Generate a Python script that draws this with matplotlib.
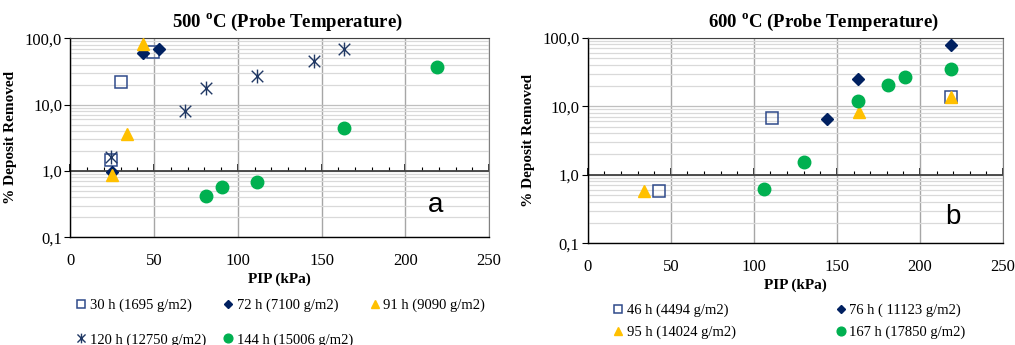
import numpy as np
import matplotlib.pyplot as plt
from matplotlib.ticker import FixedLocator, FixedFormatter, MultipleLocator, LogLocator, NullFormatter
from matplotlib.lines import Line2D
from matplotlib.path import Path

plt.rcParams['font.family'] = ['Liberation Serif', 'DejaVu Serif']
plt.rcParams['mathtext.fontset'] = 'custom'
plt.rcParams['mathtext.bf'] = 'Liberation Serif:bold'
plt.rcParams['mathtext.rm'] = 'Liberation Serif'

# 500 C panel (a)
a_30h_x = [30.0, 49.1, 24.3]
a_30h_y = [22, 63, 1.47]
a_72h_x = [43.2, 53.1, 24.7]
a_72h_y = [61, 68, 0.98]
a_91h_x = [43.6, 33.6, 24.7]
a_91h_y = [81, 3.6, 0.87]
a_120h_x = [24.3, 68.4, 81.3, 111.2, 145.4, 163.3]
a_120h_y = [1.64, 8.1, 18, 27, 46, 68]
a_144h_x = [81.3, 90.3, 111.2, 163.3, 219.2]
a_144h_y = [0.42, 0.57, 0.67, 4.5, 37]

# 600 C panel (b)
b_46h_x = [111.1, 42.9, 218.9]
b_46h_y = [6.7, 0.57, 13.8]
b_76h_x = [144.3, 162.8, 218.9]
b_76h_y = [6.5, 25, 77]
b_95h_x = [34.1, 163.2, 218.9]
b_95h_y = [0.57, 8.3, 13.8]
b_167h_x = [106.1, 130.1, 162.8, 180.8, 190.9, 218.9]
b_167h_y = [0.62, 1.52, 12, 20.4, 26.4, 35.3]

labels_a = ['30 h (1695 g/m2)', '72 h (7100 g/m2)', '91 h (9090 g/m2)',
            '120 h (12750 g/m2)', '144 h (15006 g/m2)']
labels_b = ['46 h (4494 g/m2)', '76 h ( 11123 g/m2)', '95 h (14024 g/m2)',
            '167 h (17850 g/m2)']

y_ticks = [0.1, 1, 10, 100]
y_tick_labels = ['0,1', '1,0', '10,0', '100,0']

NAVY = '#203864'
DNAVY = '#002060'
GOLD = '#FFC000'
GREEN = '#00B050'

# excel-like star: an X with a vertical stroke
star_path = Path([(-1, -1), (1, 1), (-1, 1), (1, -1), (0, -1.2), (0, 1.2)],
                 [Path.MOVETO, Path.LINETO, Path.MOVETO, Path.LINETO, Path.MOVETO, Path.LINETO])

sq = dict(marker='s', ms=9, mfc='none', mec='#2F4A8A', mew=1.1, ls='none')
dia = dict(marker='D', ms=6.5, color=DNAVY, ls='none')
tri = dict(marker='^', ms=9, color=GOLD, ls='none')
star = dict(marker=star_path, ms=10, mec=NAVY, mew=1.0, ls='none')
circ = dict(marker='o', ms=9, color=GREEN, ls='none')

fig = plt.figure(figsize=(10.15, 3.45), dpi=100)
ax1 = fig.add_axes([0.0693, 0.3122, 0.4125, 0.5768])
ax2 = fig.add_axes([0.579, 0.2948, 0.4092, 0.596])


def style(ax):
    ax.set_yscale('log')
    ax.set_xlim(0, 250)
    ax.set_ylim(0.1, 100)
    ax.yaxis.set_major_locator(FixedLocator(y_ticks))
    ax.yaxis.set_major_formatter(FixedFormatter(y_tick_labels))
    ax.yaxis.set_minor_locator(LogLocator(base=10, subs=np.arange(2, 10)))
    ax.yaxis.set_minor_formatter(NullFormatter())
    ax.xaxis.set_major_locator(MultipleLocator(50))
    ax.grid(True, which='minor', axis='y', color='#D9D9D9', lw=0.9)
    ax.grid(True, which='major', axis='y', color='#BFBFBF', lw=0.9)
    ax.grid(True, which='major', axis='x', color='#A6A6A6', lw=1.0)
    ax.tick_params(axis='x', which='both', length=0, labelsize=12, pad=11)
    ax.tick_params(axis='y', which='major', length=4, direction='out', labelsize=12, pad=2)
    ax.tick_params(axis='y', which='minor', length=0)
    for s in ['left', 'bottom']:
        ax.spines[s].set_color('black')
        ax.spines[s].set_linewidth(1.0)
    ax.spines['top'].set_color('#404040')
    ax.spines['right'].set_color('#808080')
    ax.axhline(1, color='#404040', lw=1.3, zorder=1.5)
    sec = ax.secondary_xaxis(1 / 3)
    sec.xaxis.set_major_locator(MultipleLocator(50))
    sec.xaxis.set_minor_locator(MultipleLocator(10))
    sec.tick_params(which='major', length=5, direction='in', width=1.2, labelbottom=False, labeltop=False)
    sec.tick_params(which='minor', length=3, direction='in', width=0.8)
    sec.spines['top'].set_visible(False)
    sec.spines['bottom'].set_visible(False)
    sec.set_xticklabels([])
    ax.set_xlabel('PIP (kPa)', fontweight='bold', fontsize=11, labelpad=3)
    ax.set_ylabel('% Deposit Removed', fontweight='bold', fontsize=11)
    ax.set_axisbelow(True)


style(ax1)
style(ax2)

h1 = ax1.plot(a_30h_x, a_30h_y, **sq, label=labels_a[0], zorder=3)[0]
h2 = ax1.plot(a_72h_x, a_72h_y, **dia, label=labels_a[1], zorder=3)[0]
h3 = ax1.plot(a_91h_x, a_91h_y, **tri, label=labels_a[2], zorder=3)[0]
h4 = ax1.plot(a_120h_x, a_120h_y, **star, label=labels_a[3], zorder=3)[0]
h5 = ax1.plot(a_144h_x, a_144h_y, **circ, label=labels_a[4], zorder=3)[0]

g1 = ax2.plot(b_46h_x, b_46h_y, **sq, label=labels_b[0], zorder=3)[0]
g2 = ax2.plot(b_76h_x, b_76h_y, **dia, label=labels_b[1], zorder=3)[0]
g3 = ax2.plot(b_95h_x, b_95h_y, **tri, label=labels_b[2], zorder=3)[0]
g4 = ax2.plot(b_167h_x, b_167h_y, **circ, label=labels_b[3], zorder=3)[0]

ax1.yaxis.set_label_coords(-0.128, 0.5)
ax2.yaxis.set_label_coords(-0.127, 0.5)

ax1.text(0.873, 0.162, 'a', transform=ax1.transAxes, fontsize=20,
         family='Liberation Sans', ha='center', va='center')
ax2.text(0.88, 0.129, 'b', transform=ax2.transAxes, fontsize=20,
         family='Liberation Sans', ha='center', va='center')

fig.text(0.283, 0.935, r'500 $^{\mathbf{o}}$C (Probe Temperature)', fontsize=13.5,
         fontweight='bold', ha='center', va='center')
fig.text(0.811, 0.935, r'600 $^{\mathbf{o}}$C (Probe Temperature)', fontsize=13.5,
         fontweight='bold', ha='center', va='center')


def small(h, scale=0.7):
    return Line2D([], [], marker=h.get_marker(), ms=h.get_markersize() * scale,
                  mfc=h.get_markerfacecolor(), mec=h.get_markeredgecolor(),
                  mew=h.get_markeredgewidth(), ls='none')


fig.legend([small(h1), small(h4), small(h2), small(h5), small(h3)],
           [labels_a[0], labels_a[3], labels_a[1], labels_a[4], labels_a[2]],
           ncol=3, loc='upper left', bbox_to_anchor=(0.074, 0.135),
           frameon=False, fontsize=10.5, handlelength=0.8, handletextpad=0.2,
           columnspacing=1.1, labelspacing=1.45, borderpad=0, borderaxespad=0)

fig.legend([small(g1), small(g3), small(g2), small(g4)],
           [labels_b[0], labels_b[2], labels_b[1], labels_b[3]],
           ncol=2, loc='upper left', bbox_to_anchor=(0.603, 0.12),
           frameon=False, fontsize=10.5, handlelength=0.8, handletextpad=0.2,
           columnspacing=6.8, labelspacing=0.6, borderpad=0, borderaxespad=0)

fig.savefig('out.png', dpi=100)
